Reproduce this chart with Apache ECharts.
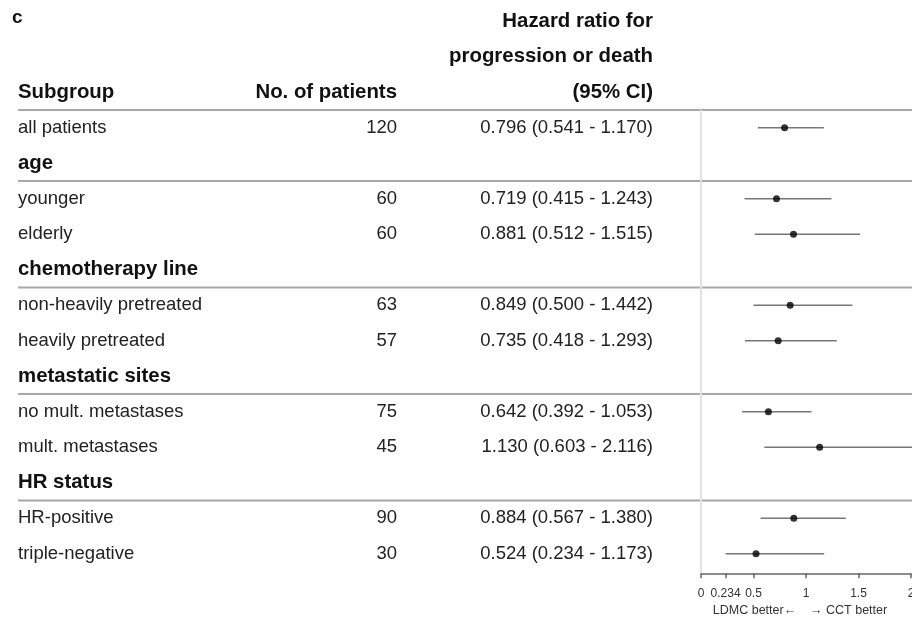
<!DOCTYPE html>
<html>
<head>
<meta charset="utf-8">
<script src="https://cdn.jsdelivr.net/npm/echarts@6/dist/echarts.min.js"></script>
<style>
  html, body { margin: 0; padding: 0; background: #fff; }
  #chart { width: 912px; height: 619px; }
</style>
</head>
<body>
<div id="chart"></div>
<script>
// Subgroup forest plot: hazard ratio for progression or death (95% CI)
const subgroups = ['all patients', 'younger', 'elderly', 'non-heavily pretreated', 'heavily pretreated',
  'no mult. metastases', 'mult. metastases', 'HR-positive', 'triple-negative'];
const groupNames = ['age', 'chemotherapy line', 'metastatic sites', 'HR status'];
const subgroupGroup = [-1, 0, 0, 1, 1, 2, 2, 3, 3];
const patients = [120, 60, 60, 63, 57, 75, 45, 90, 30];
const hazardRatio = [0.796, 0.719, 0.881, 0.849, 0.735, 0.642, 1.130, 0.884, 0.524];
const ciLower = [0.541, 0.415, 0.512, 0.500, 0.418, 0.392, 0.603, 0.567, 0.234];
const ciUpper = [1.170, 1.243, 1.515, 1.442, 1.293, 1.053, 2.116, 1.380, 1.173];
const tickValues = [0, 0.234, 0.5, 1, 1.5, 2];
const headerLines = ['Hazard ratio for', 'progression or death', '(95% CI)'];
const columnTitles = ['Subgroup', 'No. of patients'];
const axisNote = 'LDMC better\u2190    \u2192 CCT better';

const FONT = '"Liberation Sans", Arial, Helvetica, sans-serif';
const REG = 18.5, BOLD = 20.4;
const X_NAME = 18, X_COUNT = 397, X_HR = 653, X_RULE_END = 912;

// lay out table rows: a heading row opens every group
const rows = [];
let slot = 0, prev = -1;
subgroups.forEach((name, i) => {
  const g = subgroupGroup[i];
  if (g >= 0 && g !== prev) {
    rows.push({ kind: 'heading', text: groupNames[g], slot: slot });
    slot++;
  }
  prev = g;
  rows.push({ kind: 'item', idx: i, slot: slot });
  slot++;
});
const lastSlot = slot - 1;

// header rows sit above the first data row
const tableRows = [
  { kind: 'header1', slot: -3 },
  { kind: 'header2', slot: -2 },
  { kind: 'header3', slot: -1 }
].concat(rows);

const fmt = v => v.toFixed(3);

function txt(x, y, text, bold, align) {
  return {
    type: 'text',
    style: {
      x: x, y: y, text: text,
      fill: bold ? '#111' : '#222',
      font: (bold ? 'bold ' : '') + (bold ? BOLD : REG) + 'px ' + FONT,
      align: align || 'left',
      verticalAlign: 'middle'
    }
  };
}
function rule(y) {
  return {
    type: 'line',
    shape: { x1: X_NAME, y1: y, x2: X_RULE_END, y2: y },
    style: { stroke: '#a8a8a8', lineWidth: 2 }
  };
}

const itemRows = rows.filter(r => r.kind === 'item');

const chart = echarts.init(document.getElementById('chart'), null, { renderer: 'canvas' });
chart.setOption({
  animation: false,
  backgroundColor: '#fff',
  graphic: [{
    type: 'text', left: 12, top: 8,
    style: { text: 'c', font: 'bold 19px ' + FONT, fill: '#111' }
  }],
  grid: { left: 701, right: 1, top: 110, height: 463.3, outerBoundsMode: 'none', containLabel: false },
  xAxis: {
    type: 'value', min: 0, max: 2,
    splitLine: { show: false },
    axisLine: { show: true, onZero: false, lineStyle: { color: '#666', width: 1.5 } },
    axisTick: { show: true, customValues: tickValues, length: 5, lineStyle: { color: '#666', width: 1.5 } },
    axisLabel: {
      customValues: tickValues, margin: 14, color: '#333', fontSize: 12, fontFamily: FONT,
      formatter: v => String(v)
    },
    name: axisNote, nameLocation: 'middle', nameGap: 30,
    nameTextStyle: { color: '#333', fontSize: 12.5, fontFamily: FONT, padding: [0, 12, 0, 0] }
  },
  yAxis: {
    type: 'value', inverse: true, min: -0.5, max: lastSlot + 0.55,
    show: false
  },
  series: [
    {
      // table: headers, subgroup names, counts, hazard ratio text, rules
      type: 'custom',
      clip: false,
      silent: true,
      z: 1,
      data: tableRows.map(r => [0, r.slot]),
      renderItem: (params, api) => {
        const r = tableRows[params.dataIndex];
        const y = api.coord([0, r.slot])[1];
        const step = api.size([0, 1])[1];
        const children = [];
        if (r.kind === 'header1') {
          children.push(txt(X_HR, y, headerLines[0], true, 'right'));
        } else if (r.kind === 'header2') {
          children.push(txt(X_HR, y, headerLines[1], true, 'right'));
        } else if (r.kind === 'header3') {
          children.push(txt(X_NAME, y, columnTitles[0], true, 'left'));
          children.push(txt(X_COUNT, y, columnTitles[1], true, 'right'));
          children.push(txt(X_HR, y, headerLines[2], true, 'right'));
          children.push(rule(y + step / 2));
        } else if (r.kind === 'heading') {
          children.push(txt(X_NAME, y, r.text, true, 'left'));
          children.push(rule(y + step / 2));
        } else {
          const i = r.idx;
          children.push(txt(X_NAME, y, subgroups[i], false, 'left'));
          children.push(txt(X_COUNT, y, String(patients[i]), false, 'right'));
          children.push(txt(X_HR, y,
            fmt(hazardRatio[i]) + ' (' + fmt(ciLower[i]) + ' - ' + fmt(ciUpper[i]) + ')', false, 'right'));
        }
        return { type: 'group', children: children };
      }
    },
    {
      // confidence interval whiskers
      type: 'custom',
      clip: false,
      silent: true,
      z: 3,
      data: itemRows.map(r => [ciLower[r.idx], ciUpper[r.idx], r.slot]),
      renderItem: (params, api) => {
        const a = api.coord([api.value(0), api.value(2)]);
        const b = api.coord([api.value(1), api.value(2)]);
        return {
          type: 'line',
          shape: { x1: a[0], y1: a[1], x2: b[0], y2: b[1] },
          style: { stroke: '#777', lineWidth: 1.6 }
        };
      }
    },
    {
      // point estimates
      type: 'scatter',
      silent: true,
      z: 4,
      symbol: 'circle',
      symbolSize: 7,
      itemStyle: { color: '#000' },
      data: itemRows.map(r => [hazardRatio[r.idx], r.slot]),
      markLine: {
        silent: true,
        symbol: 'none',
        label: { show: false },
        lineStyle: { color: '#e2e2e2', width: 2, type: 'solid' },
        data: [{ xAxis: 0 }]
      }
    }
  ]
});
</script>
</body>
</html>
